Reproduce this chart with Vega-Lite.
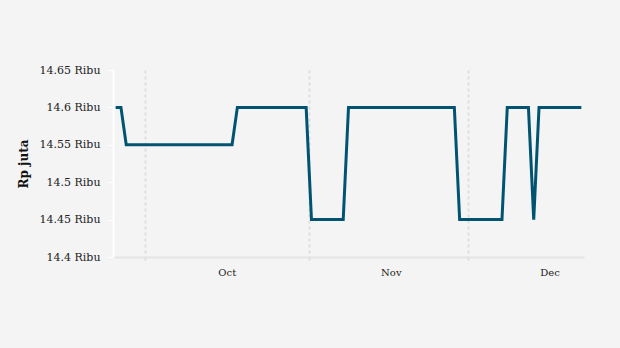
{
  "$schema": "https://vega.github.io/schema/vega-lite/v6.json",
  "width": 471,
  "height": 187,
  "autosize": {"type": "none"},
  "padding": {"left": 113, "top": 70, "right": 36, "bottom": 91},
  "background": "#f4f4f4",
  "config": {
    "view": {"stroke": null},
    "font": "DejaVu Serif"
  },
  "data": {
    "values": [
      {"date": "2020-09-25T12:00:00Z", "value": 14600},
      {"date": "2020-09-26T12:00:00Z", "value": 14600},
      {"date": "2020-09-27T12:00:00Z", "value": 14550},
      {"date": "2020-09-28T12:00:00Z", "value": 14550},
      {"date": "2020-09-29T12:00:00Z", "value": 14550},
      {"date": "2020-09-30T12:00:00Z", "value": 14550},
      {"date": "2020-10-01T12:00:00Z", "value": 14550},
      {"date": "2020-10-02T12:00:00Z", "value": 14550},
      {"date": "2020-10-03T12:00:00Z", "value": 14550},
      {"date": "2020-10-04T12:00:00Z", "value": 14550},
      {"date": "2020-10-05T12:00:00Z", "value": 14550},
      {"date": "2020-10-06T12:00:00Z", "value": 14550},
      {"date": "2020-10-07T12:00:00Z", "value": 14550},
      {"date": "2020-10-08T12:00:00Z", "value": 14550},
      {"date": "2020-10-09T12:00:00Z", "value": 14550},
      {"date": "2020-10-10T12:00:00Z", "value": 14550},
      {"date": "2020-10-11T12:00:00Z", "value": 14550},
      {"date": "2020-10-12T12:00:00Z", "value": 14550},
      {"date": "2020-10-13T12:00:00Z", "value": 14550},
      {"date": "2020-10-14T12:00:00Z", "value": 14550},
      {"date": "2020-10-15T12:00:00Z", "value": 14550},
      {"date": "2020-10-16T12:00:00Z", "value": 14550},
      {"date": "2020-10-17T12:00:00Z", "value": 14550},
      {"date": "2020-10-18T12:00:00Z", "value": 14600},
      {"date": "2020-10-19T12:00:00Z", "value": 14600},
      {"date": "2020-10-20T12:00:00Z", "value": 14600},
      {"date": "2020-10-21T12:00:00Z", "value": 14600},
      {"date": "2020-10-22T12:00:00Z", "value": 14600},
      {"date": "2020-10-23T12:00:00Z", "value": 14600},
      {"date": "2020-10-24T12:00:00Z", "value": 14600},
      {"date": "2020-10-25T12:00:00Z", "value": 14600},
      {"date": "2020-10-26T12:00:00Z", "value": 14600},
      {"date": "2020-10-27T12:00:00Z", "value": 14600},
      {"date": "2020-10-28T12:00:00Z", "value": 14600},
      {"date": "2020-10-29T12:00:00Z", "value": 14600},
      {"date": "2020-10-30T12:00:00Z", "value": 14600},
      {"date": "2020-10-31T12:00:00Z", "value": 14600},
      {"date": "2020-11-01T12:00:00Z", "value": 14450},
      {"date": "2020-11-02T12:00:00Z", "value": 14450},
      {"date": "2020-11-03T12:00:00Z", "value": 14450},
      {"date": "2020-11-04T12:00:00Z", "value": 14450},
      {"date": "2020-11-05T12:00:00Z", "value": 14450},
      {"date": "2020-11-06T12:00:00Z", "value": 14450},
      {"date": "2020-11-07T12:00:00Z", "value": 14450},
      {"date": "2020-11-08T12:00:00Z", "value": 14600},
      {"date": "2020-11-09T12:00:00Z", "value": 14600},
      {"date": "2020-11-10T12:00:00Z", "value": 14600},
      {"date": "2020-11-11T12:00:00Z", "value": 14600},
      {"date": "2020-11-12T12:00:00Z", "value": 14600},
      {"date": "2020-11-13T12:00:00Z", "value": 14600},
      {"date": "2020-11-14T12:00:00Z", "value": 14600},
      {"date": "2020-11-15T12:00:00Z", "value": 14600},
      {"date": "2020-11-16T12:00:00Z", "value": 14600},
      {"date": "2020-11-17T12:00:00Z", "value": 14600},
      {"date": "2020-11-18T12:00:00Z", "value": 14600},
      {"date": "2020-11-19T12:00:00Z", "value": 14600},
      {"date": "2020-11-20T12:00:00Z", "value": 14600},
      {"date": "2020-11-21T12:00:00Z", "value": 14600},
      {"date": "2020-11-22T12:00:00Z", "value": 14600},
      {"date": "2020-11-23T12:00:00Z", "value": 14600},
      {"date": "2020-11-24T12:00:00Z", "value": 14600},
      {"date": "2020-11-25T12:00:00Z", "value": 14600},
      {"date": "2020-11-26T12:00:00Z", "value": 14600},
      {"date": "2020-11-27T12:00:00Z", "value": 14600},
      {"date": "2020-11-28T12:00:00Z", "value": 14600},
      {"date": "2020-11-29T12:00:00Z", "value": 14450},
      {"date": "2020-11-30T12:00:00Z", "value": 14450},
      {"date": "2020-12-01T12:00:00Z", "value": 14450},
      {"date": "2020-12-02T12:00:00Z", "value": 14450},
      {"date": "2020-12-03T12:00:00Z", "value": 14450},
      {"date": "2020-12-04T12:00:00Z", "value": 14450},
      {"date": "2020-12-05T12:00:00Z", "value": 14450},
      {"date": "2020-12-06T12:00:00Z", "value": 14450},
      {"date": "2020-12-07T12:00:00Z", "value": 14450},
      {"date": "2020-12-08T12:00:00Z", "value": 14600},
      {"date": "2020-12-09T12:00:00Z", "value": 14600},
      {"date": "2020-12-10T12:00:00Z", "value": 14600},
      {"date": "2020-12-11T12:00:00Z", "value": 14600},
      {"date": "2020-12-12T12:00:00Z", "value": 14600},
      {"date": "2020-12-13T12:00:00Z", "value": 14450},
      {"date": "2020-12-14T12:00:00Z", "value": 14600},
      {"date": "2020-12-15T12:00:00Z", "value": 14600},
      {"date": "2020-12-16T12:00:00Z", "value": 14600},
      {"date": "2020-12-17T12:00:00Z", "value": 14600},
      {"date": "2020-12-18T12:00:00Z", "value": 14600},
      {"date": "2020-12-19T12:00:00Z", "value": 14600},
      {"date": "2020-12-20T12:00:00Z", "value": 14600},
      {"date": "2020-12-21T12:00:00Z", "value": 14600},
      {"date": "2020-12-22T12:00:00Z", "value": 14600}
    ]
  },
  "mark": {"type": "line", "color": "#005471", "strokeWidth": 3},
  "encoding": {
    "x": {
      "field": "date",
      "type": "temporal",
      "scale": {
        "type": "utc",
        "domain": [
          {"year": 2020, "month": 9, "date": 25, "utc": true},
          {"year": 2020, "month": 12, "date": 23, "utc": true}
        ]
      },
      "axis": {
        "title": null,
        "values": [
          {"year": 2020, "month": 10, "date": 1, "utc": true},
          {"year": 2020, "month": 11, "date": 1, "utc": true},
          {"year": 2020, "month": 12, "date": 1, "utc": true}
        ],
        "labelExpr": "utcFormat(datum.value, '%b')",
        "labelOffset": 82,
        "labelFlush": false,
        "labelFontSize": 10,
        "labelColor": "#222222",
        "labelPadding": 4,
        "grid": true,
        "gridColor": "#dddddd",
        "gridWidth": 2,
        "gridDash": [3, 3],
        "ticks": true,
        "tickSize": 6,
        "tickColor": "#dddddd",
        "tickWidth": 2,
        "tickDash": [3, 3],
        "domainColor": "#e4e4e4",
        "domainWidth": 2
      }
    },
    "y": {
      "field": "value",
      "type": "quantitative",
      "scale": {"domain": [14400, 14650], "zero": false, "nice": false},
      "axis": {
        "title": "Rp juta",
        "titleFont": "DejaVu Serif",
        "titleFontSize": 12,
        "titleFontWeight": "bold",
        "titleColor": "#111111",
        "titlePadding": 9,
        "values": [14400, 14450, 14500, 14550, 14600, 14650],
        "labelExpr": "format(datum.value / 1000, '.2~f') + ' Ribu'",
        "labelFontSize": 11,
        "labelColor": "#222222",
        "labelPadding": 7,
        "grid": false,
        "tickSize": 6,
        "tickColor": "#ffffff",
        "tickWidth": 1,
        "domainColor": "#ffffff",
        "domainWidth": 2
      }
    }
  }
}
